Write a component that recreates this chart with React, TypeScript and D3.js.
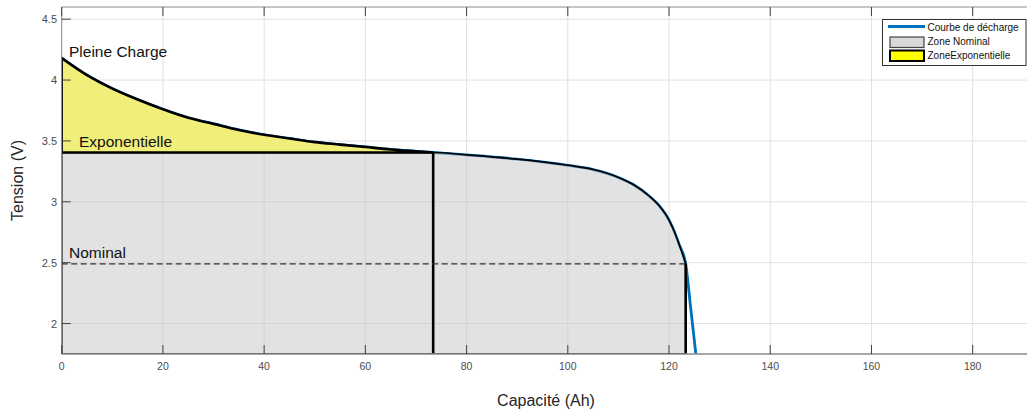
import React from 'react';
import * as d3 from 'd3';

// courbe de décharge
const capacite = [0, 5, 10, 15, 20, 25, 30, 35, 40, 45, 50, 55, 60, 65, 70, 73.4, 80, 90, 100, 105, 110, 113, 116, 118, 120, 121, 122, 123.3, 124.3, 125.3];
const tension = [4.18, 4.04, 3.93, 3.84, 3.76, 3.69, 3.64, 3.59, 3.55, 3.52, 3.49, 3.47, 3.45, 3.43, 3.415, 3.405, 3.385, 3.35, 3.3, 3.265, 3.2, 3.14, 3.05, 2.97, 2.85, 2.76, 2.65, 2.49, 2.12, 1.75];

// limites des zones
const qExp = 73.4;
const vExp = 3.405;
const qNom = 123.3;
const vNom = 2.49;

const xTicks = [0, 20, 40, 60, 80, 100, 120, 140, 160, 180];
const yTicks = [2, 2.5, 3, 3.5, 4, 4.5];
const legendLabels = ['Courbe de décharge', 'Zone Nominal', 'ZoneExponentielle'];

const W = 1027;
const H = 411;
const left = 61.7;
const top = 7;
const bottom = 354;

const font = '"Liberation Sans", Arial, Helvetica, sans-serif';

export default function App() {
  const x = d3.scaleLinear().domain([0, 200]).range([left, left + 200 * 5.061]);
  const y = d3.scaleLinear().domain([1.75, 4.6]).range([bottom, top]);
  const right = x(200);

  const pts = capacite.map((c, i) => [c, tension[i]] as [number, number]);
  const expPts = pts.filter((p) => p[0] <= qExp);
  const nomPts: [number, number][] = [[0, vExp], ...pts.filter((p) => p[0] >= qExp && p[0] <= qNom)];

  const line = d3.line<[number, number]>().x((d) => x(d[0])).y((d) => y(d[1])).curve(d3.curveMonotoneX);
  const expArea = d3.area<[number, number]>().x((d) => x(d[0])).y0(y(vExp)).y1((d) => y(d[1])).curve(d3.curveMonotoneX);
  const nomArea = d3.area<[number, number]>().x((d) => x(d[0])).y0(y(1.75)).y1((d) => y(d[1])).curve(d3.curveMonotoneX);

  return (
    <div>
      <style>{`body{margin:0}`}</style>
      <svg width={W} height={H} style={{ display: 'block', fontFamily: font }}>
        <defs>
          <clipPath id="plot">
            <rect x={left} y={top} width={right - left} height={bottom - top} />
          </clipPath>
        </defs>
        <rect width={W} height={H} fill="#fff" />

        {/* grille */}
        <g stroke="#e0e0e0" strokeWidth={1}>
          {[...xTicks, 200].map((t) => (
            <line key={'gx' + t} x1={x(t)} x2={x(t)} y1={top} y2={bottom} />
          ))}
          {yTicks.map((t) => (
            <line key={'gy' + t} x1={left} x2={right} y1={y(t)} y2={y(t)} />
          ))}
        </g>

        <g clipPath="url(#plot)">
          <path d={line(pts) || ''} fill="none" stroke="#0072BD" strokeWidth={2.8} />
          <path d={nomArea(nomPts) || ''} fill="#c8c8c8" fillOpacity={0.52} stroke="#000" strokeWidth={1.7} />
          <path d={expArea(expPts) || ''} fill="#efef7a" stroke="#000" strokeWidth={2.6} />
          <line x1={x(qExp)} x2={x(qExp)} y1={y(vExp)} y2={bottom} stroke="#000" strokeWidth={2.6} />
          <line x1={x(qNom)} x2={x(qNom)} y1={y(vNom)} y2={bottom} stroke="#000" strokeWidth={2.6} />
          <line x1={x(0)} x2={x(qNom)} y1={y(vNom)} y2={y(vNom)} stroke="#333" strokeWidth={1.2} strokeDasharray="6,3.5" />
        </g>

        {/* cadre et graduations */}
        <line x1={left} x2={right} y1={top} y2={top} stroke="#8a8a8a" strokeWidth={1} />
        <line x1={left} x2={right} y1={bottom} y2={bottom} stroke="#8a8a8a" strokeWidth={1.6} />
        <line x1={left} x2={left} y1={top} y2={bottom} stroke="#8a8a8a" strokeWidth={1} />
        <g stroke="#404040" strokeWidth={1}>
          {xTicks.map((t) => (
            <g key={'tx' + t}>
              <line x1={x(t)} x2={x(t)} y1={bottom} y2={bottom - 9} />
              <line x1={x(t)} x2={x(t)} y1={top} y2={top + 9} />
            </g>
          ))}
          {yTicks.map((t) => (
            <line key={'ty' + t} x1={left} x2={left + 9} y1={y(t)} y2={y(t)} />
          ))}
        </g>

        <g fill="#4d4d4d" fontSize={10.5} textAnchor="middle">
          {xTicks.map((t) => (
            <text key={'lx' + t} x={x(t)} y={370}>
              {t}
            </text>
          ))}
        </g>
        <g fill="#4d4d4d" fontSize={11} textAnchor="end">
          {yTicks.map((t) => (
            <text key={'ly' + t} x={57} y={y(t) + 4}>
              {t}
            </text>
          ))}
        </g>

        <text x={546} y={406} fontSize={16} fill="#262626" textAnchor="middle">
          Capacité (Ah)
        </text>
        <text transform={`translate(23,${(top + bottom) / 2}) rotate(-90)`} fontSize={16} fill="#262626" textAnchor="middle">
          Tension (V)
        </text>

        {/* annotations */}
        <g fontSize={15.5} fill="#111">
          <text x={69} y={56.5}>Pleine Charge</text>
          <text x={79} y={146.5}>Exponentielle</text>
          <text x={69} y={258.3}>Nominal</text>
        </g>

        {/* légende */}
        <g>
          <rect x={882.5} y={19.5} width={143.5} height={46} fill="#fff" stroke="#333" strokeWidth={1} />
          <line x1={888} x2={925} y1={26.5} y2={26.5} stroke="#0072BD" strokeWidth={2.8} />
          <rect x={890} y={37} width={34} height={10.5} fill="#c8c8c8" fillOpacity={0.7} stroke="#444" strokeWidth={1.2} />
          <rect x={890} y={50.5} width={34} height={10.5} fill="#ffff00" stroke="#000" strokeWidth={2} />
          <g fontSize={10} fill="#111">
            {legendLabels.map((l, i) => (
              <text key={l} x={927.5} y={30.5 + i * 14.3}>
                {l}
              </text>
            ))}
          </g>
        </g>
      </svg>
    </div>
  );
}
